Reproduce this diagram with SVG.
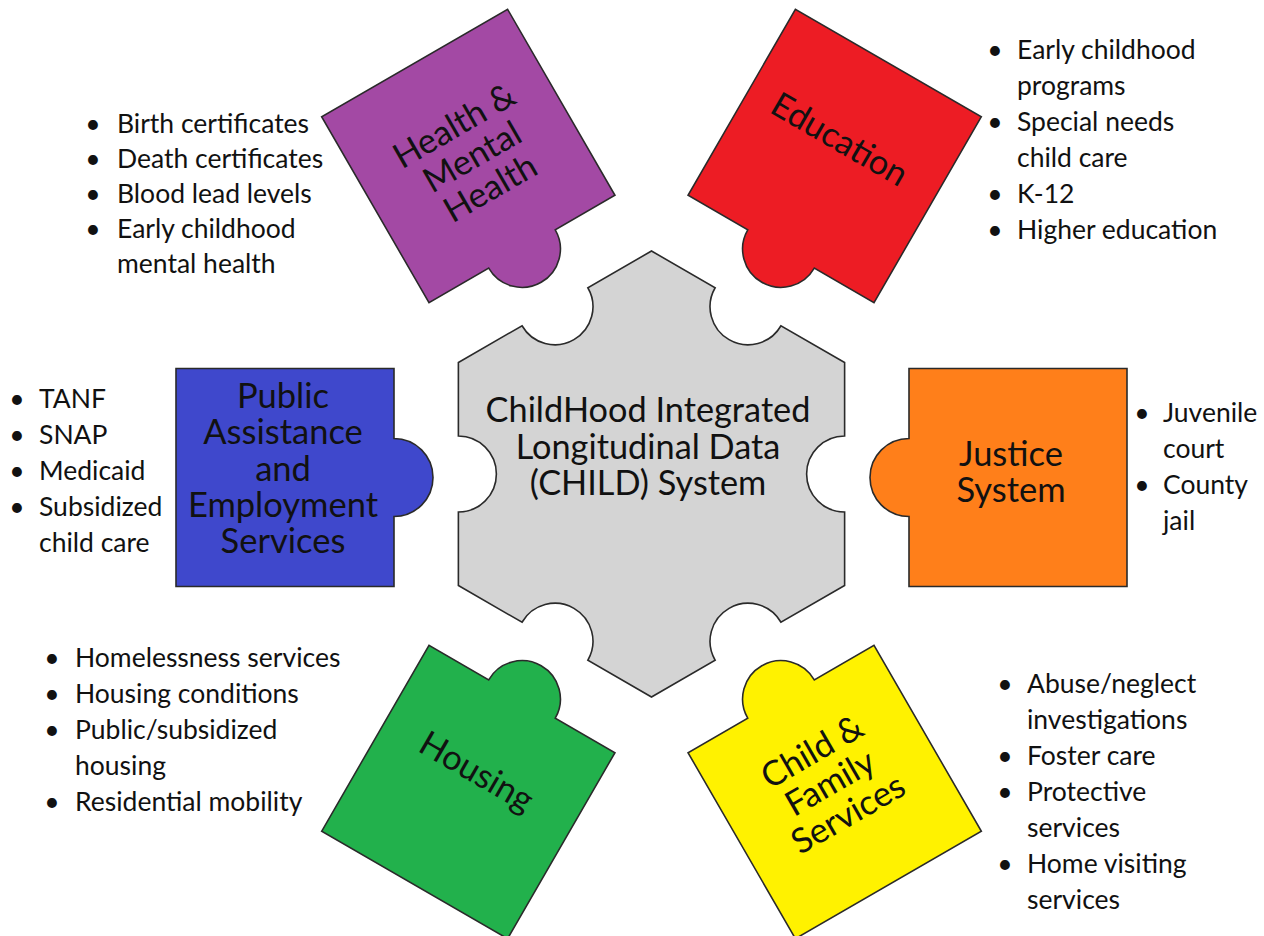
<svg xmlns="http://www.w3.org/2000/svg" width="1264" height="936" viewBox="0 0 1264 936">
<style>
.pc{stroke:#2a2a2a;stroke-width:1.6;stroke-linejoin:miter}
.lbl{font-family:Lato,"Liberation Sans",sans-serif;font-size:34.5px;fill:#111;text-anchor:middle}
.hx{font-family:Lato,"Liberation Sans",sans-serif;font-size:34.3px;fill:#111;text-anchor:middle}
.li{font-family:Lato,"Liberation Sans",sans-serif;font-size:26.5px;fill:#111}
.b{text-anchor:middle}
</style>
<defs>
<path id="piece" d="M -109,-109 H 109 V -39 A 39 39 0 0 1 109,39 V 109 H -109 Z"/>
</defs>
<rect width="1264" height="936" fill="#fff"/>
<g id="child-system">
<path class="pc" fill="#D4D4D4" d="M 651.5,251 L 715.15,287.75 A 38 38 0 0 0 780.97,325.75 L 844.62,362.5 L 844.62,436 A 38 38 0 0 0 844.62,512 L 844.62,585.5 L 780.97,622.25 A 38 38 0 0 0 715.15,660.25 L 651.5,697 L 587.85,660.25 A 38 38 0 0 0 522.03,622.25 L 458.38,585.5 L 458.38,512 A 38 38 0 0 0 458.38,436 L 458.38,362.5 L 522.03,325.75 A 38 38 0 0 0 587.85,287.75 Z"/>
<text class="hx"><tspan x="648" y="422">ChildHood Integrated</tspan><tspan x="648" y="458.5">Longitudinal Data</tspan><tspan x="648" y="495">(CHILD) System</tspan></text>
</g>
<g id="public-assistance">
<use href="#piece" class="pc" fill="#3F48CC" transform="translate(285,477.5)"/>
<text class="lbl"><tspan x="283" y="408">Public</tspan><tspan x="283" y="444.3">Assistance</tspan><tspan x="283" y="480.6">and</tspan><tspan x="283" y="516.8">Employment</tspan><tspan x="283" y="553">Services</tspan></text>
<text class="li"><tspan class="b" x="17" y="408">•</tspan><tspan x="39" y="408">TANF</tspan><tspan class="b" x="17" y="444">•</tspan><tspan x="39" y="444">SNAP</tspan><tspan class="b" x="17" y="480">•</tspan><tspan x="39" y="480">Medicaid</tspan><tspan class="b" x="17" y="516">•</tspan><tspan x="39" y="516">Subsidized</tspan><tspan x="39" y="552">child care</tspan></text>
</g>
<g id="justice-system">
<use href="#piece" class="pc" fill="#FF7F1A" transform="translate(1018,477.5) rotate(180)"/>
<text class="lbl"><tspan x="1011" y="466">Justice</tspan><tspan x="1011" y="502">System</tspan></text>
<text class="li"><tspan class="b" x="1142" y="422">•</tspan><tspan x="1163" y="422">Juvenile</tspan><tspan x="1163" y="458">court</tspan><tspan class="b" x="1142" y="494">•</tspan><tspan x="1163" y="494">County</tspan><tspan x="1163" y="530">jail</tspan></text>
</g>
<g id="health">
<use href="#piece" class="pc" fill="#A349A4" transform="translate(468.3,156) rotate(60) scale(0.985)"/>
<g transform="translate(468.3,156) rotate(-30)"><text class="lbl"><tspan x="3" y="-21.5">Health &amp;</tspan><tspan x="3" y="14.5">Mental</tspan><tspan x="3" y="50.5">Health</tspan></text></g>
<text class="li"><tspan class="b" x="93" y="133">•</tspan><tspan x="117" y="133">Birth certificates</tspan><tspan class="b" x="93" y="168">•</tspan><tspan x="117" y="168">Death certificates</tspan><tspan class="b" x="93" y="203">•</tspan><tspan x="117" y="203">Blood lead levels</tspan><tspan class="b" x="93" y="238">•</tspan><tspan x="117" y="238">Early childhood</tspan><tspan x="117" y="273">mental health</tspan></text>
</g>
<g id="education">
<use href="#piece" class="pc" fill="#ED1C24" transform="translate(834.7,156) rotate(120) scale(0.985)"/>
<g transform="translate(834.7,156) rotate(30)"><text class="lbl" x="-4" y="-5">Education</text></g>
<text class="li"><tspan class="b" x="995" y="59">•</tspan><tspan x="1017" y="59">Early childhood</tspan><tspan x="1017" y="95">programs</tspan><tspan class="b" x="995" y="131">•</tspan><tspan x="1017" y="131">Special needs</tspan><tspan x="1017" y="167">child care</tspan><tspan class="b" x="995" y="203">•</tspan><tspan x="1017" y="203">K-12</tspan><tspan class="b" x="995" y="239">•</tspan><tspan x="1017" y="239">Higher education</tspan></text>
</g>
<g id="housing">
<use href="#piece" class="pc" fill="#22B14C" transform="translate(468.3,792) rotate(300) scale(0.985)"/>
<g transform="translate(468.3,792) rotate(30)"><text class="lbl" x="-3" y="-10">Housing</text></g>
<text class="li"><tspan class="b" x="52" y="667">•</tspan><tspan x="75" y="667">Homelessness services</tspan><tspan class="b" x="52" y="703">•</tspan><tspan x="75" y="703">Housing conditions</tspan><tspan class="b" x="52" y="739">•</tspan><tspan x="75" y="739">Public/subsidized</tspan><tspan x="75" y="775">housing</tspan><tspan class="b" x="52" y="811">•</tspan><tspan x="75" y="811">Residential mobility</tspan></text>
</g>
<g id="child-family">
<use href="#piece" class="pc" fill="#FFF200" transform="translate(834.7,792) rotate(240) scale(0.985)"/>
<g transform="translate(834.7,792) rotate(-30)"><text class="lbl"><tspan x="0.6" y="-34.5">Child &amp;</tspan><tspan x="0.6" y="1.5">Family</tspan><tspan x="0.6" y="37.5">Services</tspan></text></g>
<text class="li"><tspan class="b" x="1005" y="693">•</tspan><tspan x="1027" y="693">Abuse/neglect</tspan><tspan x="1027" y="729">investigations</tspan><tspan class="b" x="1005" y="765">•</tspan><tspan x="1027" y="765">Foster care</tspan><tspan class="b" x="1005" y="801">•</tspan><tspan x="1027" y="801">Protective</tspan><tspan x="1027" y="837">services</tspan><tspan class="b" x="1005" y="873">•</tspan><tspan x="1027" y="873">Home visiting</tspan><tspan x="1027" y="909">services</tspan></text>
</g>
<g id="connectors"></g>
</svg>
